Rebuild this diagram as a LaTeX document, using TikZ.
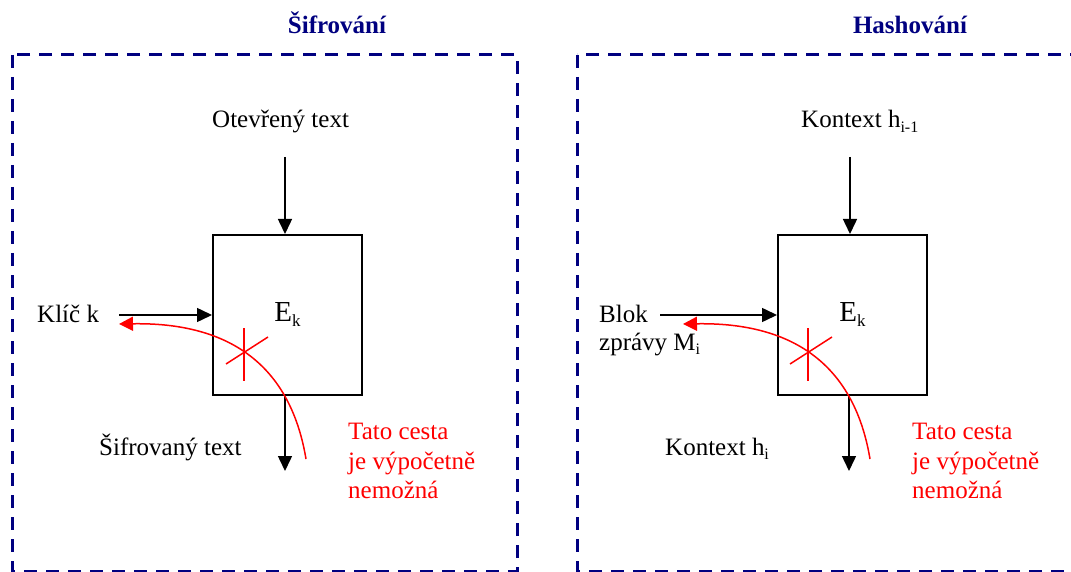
\documentclass[tikz,border=0pt]{standalone}
\usepackage{fontspec}
\setmainfont{Liberation Serif}
\usetikzlibrary{arrows.meta}
\definecolor{navyblue}{RGB}{0,0,128}
\definecolor{pathred}{RGB}{255,0,0}
\newcommand{\mysub}[1]{\raisebox{-4.5pt}{\fontsize{16}{16}\selectfont #1}}
\newcommand{\boxsub}[1]{\raisebox{-5pt}{\fontsize{17}{17}\selectfont #1}}
\begin{document}
\begin{tikzpicture}[x=1pt,y=-1pt,
  txt/.style={font=\fontsize{25}{30}\selectfont, inner sep=0pt, anchor=base west},
  redtxt/.style={txt, text=pathred},
  title/.style={font=\fontsize{25}{30}\selectfont\bfseries, text=navyblue, inner sep=0pt, anchor=base},
  frame/.style={draw=navyblue, line width=3pt, dash pattern=on 13pt off 9pt},
  blk/.style={draw, line width=2pt, minimum width=149pt, minimum height=160pt, inner sep=0pt, font=\fontsize{29}{32}\selectfont},
  arr/.style={line width=1.5pt, -{Triangle[length=15pt,width=14pt]}},
  redarr/.style={draw=pathred, line width=1.5pt, -{Triangle[length=14pt,width=14pt]}},
  crossline/.style={draw=pathred, line width=1.5pt}]
\useasboundingbox (0,0) rectangle (1071,572);
\fill[white] (0,0) rectangle (1071,572);

% frames
\draw[frame] (12,55) rectangle (517,571);
\draw[frame] (577,55) rectangle (1095,571);
\node[title] (t1) at (337,34) {Šifrování};
\node[title] (t2) at (910,34) {Hashování};

% ===== left: encryption =====
\node[blk] (boxL) at (287.5,315) {E\boxsub{k}};
\node[txt] (otL) at (212,128) {Otevřený text};
\coordinate (inL) at (285,157);
\draw[arr] (inL) -- (inL |- boxL.north);
\node[txt] (klic) at (37,322) {Klíč k};
\coordinate (kL) at (119,315);
\draw[arr] (kL) -- (kL -| boxL.west);
\coordinate (outL) at (285,471);
\draw[arr] (outL |- boxL.south) -- (outL);
\node[txt] (sifL) at (99,455) {Šifrovaný text};
\coordinate (rsL) at (306,459);
\coordinate (reL) at (119,324);
\draw[redarr] (rsL) .. controls (292,375) and (240,322) .. (reL);
\draw[crossline] (244,328) -- (244,381);
\draw[crossline] (226,364) -- (268,337);
\node[redtxt] (r1L) at (348,439) {Tato cesta};
\node[redtxt] (r2L) at (348,469) {je výpočetně};
\node[redtxt] (r3L) at (348,498) {nemožná};

% ===== right: hashing =====
\node[blk] (boxR) at (852.5,315) {E\boxsub{k}};
\node[txt] (otR) at (801,128) {Kontext h\mysub{i-1}};
\coordinate (inR) at (850,157);
\draw[arr] (inR) -- (inR |- boxR.north);
\node[txt] (blok1) at (599,322) {Blok};
\node[txt] (blok2) at (599,350) {zprávy M\mysub{i}};
\coordinate (kR) at (660,315);
\draw[arr] (kR) -- (kR -| boxR.west);
\coordinate (outR) at (849,471);
\draw[arr] (outR |- boxR.south) -- (outR);
\node[txt] (konR) at (665,455) {Kontext h\mysub{i}};
\coordinate (rsR) at (870,459);
\coordinate (reR) at (683,324);
\draw[redarr] (rsR) .. controls (856,375) and (804,322) .. (reR);
\draw[crossline] (808,328) -- (808,381);
\draw[crossline] (790,364) -- (832,337);
\node[redtxt] (r1R) at (912,439) {Tato cesta};
\node[redtxt] (r2R) at (912,469) {je výpočetně};
\node[redtxt] (r3R) at (912,498) {nemožná};
\end{tikzpicture}
\end{document}
